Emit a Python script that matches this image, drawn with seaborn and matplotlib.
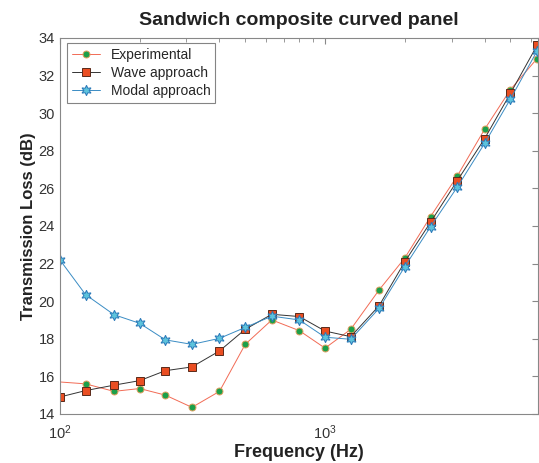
"""Transmission loss of a sandwich composite curved panel: experiment vs two models."""
import matplotlib
matplotlib.use('Agg')
import matplotlib.pyplot as plt
import seaborn as sns

# third-octave band centre frequencies (Hz)
freqs = [100, 125, 160, 200, 250, 315, 400, 500, 630, 800,
         1000, 1250, 1600, 2000, 2500, 3150, 4000, 5000, 6300]

# experimental curve starts below 100 Hz (clipped at the left edge)
freqs_exp = [80] + freqs[1:]
tl_exp = [15.8, 15.6, 15.2, 15.35, 15.0, 14.35, 15.2, 17.7, 19.0, 18.43,
          17.5, 18.5, 20.6, 22.3, 24.5, 26.65, 29.15, 31.25, 32.9]
tl_wave = [14.9, 15.24, 15.53, 15.77, 16.3, 16.5, 17.35, 18.5, 19.3, 19.18,
           18.41, 18.11, 19.76, 22.1, 24.2, 26.4, 28.65, 31.05, 33.6]
tl_modal = [22.2, 20.35, 19.28, 18.82, 17.94, 17.7, 18.02, 18.6, 19.2, 19.0,
            18.08, 17.97, 19.62, 21.84, 23.96, 26.06, 28.4, 30.75, 33.3]

sns.set_style('white')
plt.rcParams['font.family'] = ['Liberation Sans', 'DejaVu Sans']

fig = plt.figure(figsize=(5.39, 4.63), dpi=100)
ax = fig.add_axes([0.111, 0.106, 0.887, 0.812])

sns.lineplot(x=freqs_exp, y=tl_exp, ax=ax, color='#f26b55', lw=0.7,
             marker='o', markersize=5, markerfacecolor='#1ba04a',
             markeredgecolor='#e0a060', markeredgewidth=0.7,
             label='Experimental')
sns.lineplot(x=freqs, y=tl_wave, ax=ax, color='#333333', lw=0.7,
             marker='s', markersize=5.5, markerfacecolor='#ea4e22',
             markeredgecolor='#5a2a1a', markeredgewidth=0.7,
             label='Wave approach')
sns.lineplot(x=freqs, y=tl_modal, ax=ax, color='#3a8cc4', lw=0.7,
             marker=(6, 1, 0), markersize=7.5, markerfacecolor='#5cc3dc',
             markeredgecolor='#2a78b8', markeredgewidth=0.7,
             label='Modal approach')

ax.set_xscale('log')
ax.set_xlim(100, 6350)
ax.set_ylim(14, 34)
ax.set_yticks(range(14, 35, 2))
ax.tick_params(axis='both', which='both', direction='in', top=True, right=True,
               colors='#888888', labelcolor='#333333', labelsize=10.5)
ax.tick_params(axis='x', which='major', pad=7)
ax.tick_params(which='major', length=4)
ax.tick_params(which='minor', length=3)
for spine in ax.spines.values():
    spine.set_color('#888888')
    spine.set_linewidth(0.8)

ax.set_title('Sandwich composite curved panel', fontsize=14, fontweight='bold',
             color='#222222', pad=9)
ax.set_xlabel('Frequency (Hz)', fontsize=13, fontweight='bold', color='#222222')
ax.xaxis.set_label_coords(0.5, -0.102)
ax.xaxis.label.set_va('center')
ax.set_ylabel('Transmission Loss (dB)', fontsize=12, fontweight='bold',
              color='#222222', labelpad=2)

leg = ax.legend(loc='upper left', bbox_to_anchor=(0.015, 0.987), fontsize=10,
                frameon=True, fancybox=False, borderpad=0.35, labelspacing=0.3,
                handlelength=2.0, handletextpad=0.8, borderaxespad=0)
leg.get_frame().set_edgecolor('#666666')
leg.get_frame().set_linewidth(0.8)

fig.savefig('out.png', dpi=100)
